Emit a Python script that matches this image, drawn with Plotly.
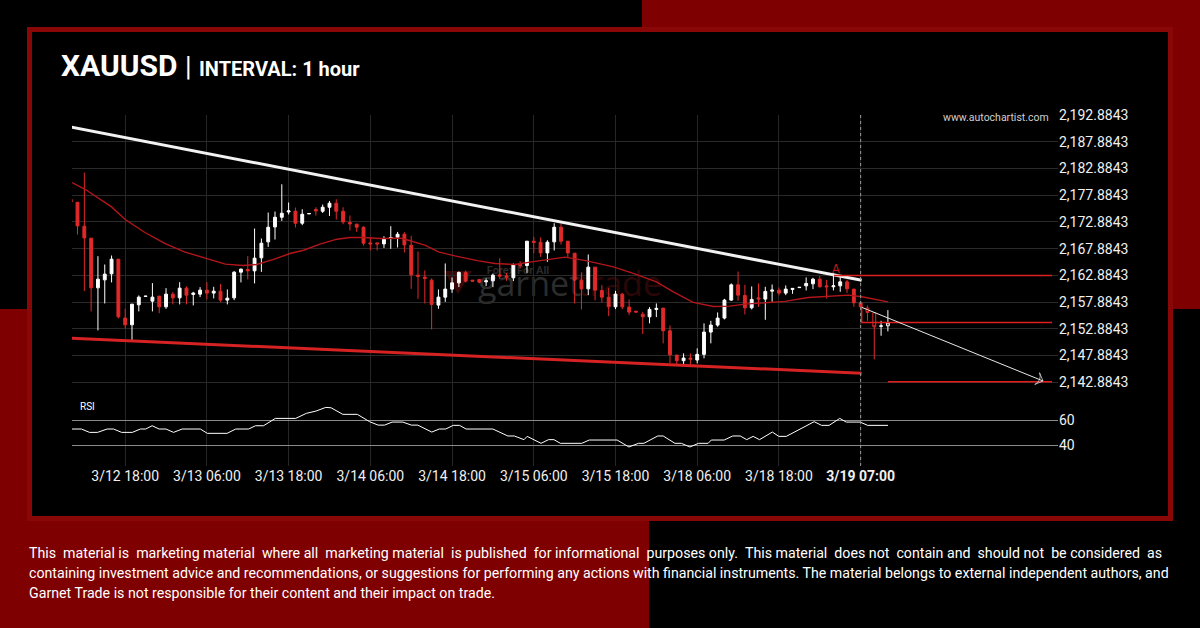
import plotly.graph_objects as go

W, H = 1200, 628


def px(x):
    return x / W


def py(y):
    return 1 - y / H


# ---------------- data ----------------
bar_idx = list(range(-1, 120))

opens = [
    2177.14, 2176.57, 2172.09, 2169.85, 2160.56, 2162.05, 2163.18, 2165.92, 2154.90, 2153.64,
    2157.38, 2158.95, 2158.07, 2159.01, 2157.01, 2159.38, 2158.69, 2160.50, 2159.33, 2159.38,
    2160.13, 2159.57, 2159.94, 2158.26, 2158.69, 2163.49, 2164.00, 2163.74, 2166.17, 2169.16,
    2171.96, 2173.77, 2174.76, 2174.89, 2172.65, 2174.40, 2175.21, 2174.89, 2175.64, 2176.39,
    2174.89, 2172.78, 2172.46, 2171.90, 2168.97, 2168.97, 2168.78, 2169.79, 2170.03, 2170.59,
    2168.54, 2162.93, 2162.56, 2162.00, 2157.33, 2158.82, 2160.32, 2161.49, 2163.44, 2162.00,
    2162.13, 2161.68, 2161.87, 2162.99, 2162.80, 2162.43, 2164.99, 2164.74, 2169.29, 2169.10,
    2167.10, 2169.16, 2171.90, 2169.29, 2167.04, 2162.00, 2160.37, 2164.43, 2160.07, 2158.82,
    2157.01, 2159.38, 2156.95, 2156.20, 2155.64, 2155.14, 2156.52, 2156.77, 2152.52, 2147.98,
    2146.92, 2147.42, 2147.05, 2148.11, 2152.28, 2153.59, 2154.90, 2158.26, 2161.12, 2159.14,
    2156.82, 2158.69, 2158.45, 2159.94, 2160.13, 2159.57, 2160.26, 2160.60, 2160.93, 2161.31,
    2162.18, 2160.93, 2160.75, 2160.93, 2161.68, 2160.32, 2157.76, 2156.77, 2155.89, 2153.36,
    2153.46,
]
highs = [
    2177.30, 2176.60, 2182.12, 2169.85, 2166.48, 2164.93, 2166.61, 2165.92, 2156.63, 2157.51,
    2159.14, 2159.05, 2161.44, 2159.01, 2160.50, 2159.81, 2161.62, 2160.82, 2159.81, 2160.69,
    2161.62, 2160.75, 2161.25, 2160.26, 2163.68, 2164.18, 2166.48, 2171.66, 2169.79, 2174.65,
    2174.84, 2179.94, 2176.52, 2175.58, 2175.27, 2174.50, 2175.64, 2176.14, 2176.82, 2177.14,
    2175.64, 2174.09, 2172.59, 2172.09, 2170.09, 2168.97, 2170.22, 2172.09, 2171.02, 2170.97,
    2170.28, 2167.36, 2163.81, 2162.32, 2160.26, 2165.12, 2162.50, 2163.62, 2163.81, 2162.00,
    2162.13, 2162.32, 2163.25, 2166.11, 2163.36, 2165.12, 2165.55, 2169.29, 2170.09, 2169.98,
    2169.47, 2172.65, 2172.59, 2169.29, 2167.04, 2163.44, 2166.80, 2164.43, 2161.06, 2160.56,
    2160.00, 2159.62, 2158.39, 2156.20, 2156.07, 2156.95, 2157.64, 2156.77, 2153.53, 2147.98,
    2148.30, 2148.30, 2149.23, 2153.91, 2154.39, 2155.96, 2158.50, 2161.38, 2163.62, 2161.12,
    2160.82, 2161.38, 2160.75, 2161.19, 2160.63, 2161.01, 2160.45, 2160.70, 2162.50, 2162.43,
    2162.80, 2162.05, 2163.25, 2162.80, 2162.05, 2160.32, 2157.76, 2157.27, 2155.89, 2154.39,
    2156.39,
]
lows = [
    2176.50, 2170.54, 2159.94, 2156.15, 2152.60, 2157.64, 2161.57, 2154.84, 2152.97, 2150.78,
    2156.15, 2158.90, 2156.15, 2155.83, 2156.63, 2157.46, 2157.46, 2157.46, 2157.27, 2158.82,
    2158.39, 2158.58, 2157.89, 2157.46, 2158.26, 2161.57, 2162.13, 2161.38, 2163.55, 2168.22,
    2169.60, 2173.08, 2174.28, 2171.85, 2172.28, 2174.40, 2174.09, 2174.57, 2174.01, 2173.34,
    2172.46, 2171.29, 2171.02, 2168.48, 2167.55, 2167.55, 2168.03, 2167.85, 2168.11, 2167.17,
    2160.37, 2158.50, 2157.64, 2152.78, 2156.63, 2157.94, 2159.62, 2160.69, 2161.57, 2161.81,
    2161.38, 2160.88, 2160.69, 2162.18, 2161.87, 2161.81, 2164.18, 2163.36, 2167.04, 2166.35,
    2165.42, 2167.55, 2168.67, 2166.30, 2157.64, 2156.52, 2159.19, 2158.20, 2157.83, 2155.27,
    2156.58, 2156.58, 2155.46, 2156.02, 2151.91, 2153.91, 2155.08, 2150.17, 2146.43, 2146.11,
    2146.11, 2146.11, 2146.43, 2147.37, 2150.17, 2153.27, 2154.65, 2158.13, 2158.13, 2155.59,
    2156.52, 2157.01, 2154.58, 2157.94, 2159.14, 2159.19, 2159.44, 2160.55, 2160.07, 2160.32,
    2160.63, 2158.58, 2160.07, 2159.81, 2159.62, 2157.01, 2157.01, 2154.39, 2147.18, 2151.59,
    2152.41,
]
closes = [
    2176.63, 2172.15, 2169.90, 2160.56, 2162.18, 2163.12, 2165.92, 2155.14, 2153.64, 2157.51,
    2158.82, 2159.00, 2158.82, 2157.01, 2159.38, 2158.69, 2160.50, 2159.19, 2159.57, 2160.13,
    2159.57, 2159.94, 2158.26, 2158.63, 2163.49, 2164.05, 2163.74, 2166.11, 2168.91, 2171.90,
    2173.77, 2174.52, 2174.95, 2172.65, 2174.33, 2174.46, 2174.95, 2175.64, 2176.39, 2174.89,
    2172.89, 2172.52, 2171.90, 2168.91, 2168.78, 2168.78, 2169.66, 2169.98, 2170.59, 2168.59,
    2162.99, 2162.69, 2162.32, 2157.46, 2158.82, 2160.32, 2161.49, 2163.44, 2161.81, 2161.81,
    2161.62, 2161.87, 2162.93, 2162.75, 2162.56, 2164.86, 2164.74, 2169.29, 2169.04, 2167.10,
    2169.10, 2171.90, 2169.29, 2167.10, 2162.00, 2160.37, 2164.43, 2160.13, 2158.82, 2157.01,
    2159.38, 2157.01, 2156.02, 2156.02, 2155.14, 2156.52, 2156.71, 2152.52, 2148.04, 2146.92,
    2147.42, 2147.18, 2148.11, 2152.28, 2153.59, 2154.90, 2158.26, 2161.12, 2159.19, 2156.82,
    2158.39, 2158.45, 2159.89, 2160.13, 2159.57, 2160.32, 2160.45, 2160.66, 2161.38, 2162.18,
    2160.75, 2160.75, 2160.93, 2161.68, 2160.37, 2157.76, 2157.01, 2155.96, 2153.27, 2153.44,
    2154.02,
]
N_CLOSED = 117  # bars up to the 3/19 07:00 marker; the rest are drawn hollow

# moving average
ma_x = [-0.8, 1.1, 5.0, 7.0, 9.9, 12.8, 15.7, 18.7, 21.7, 24.3, 26.3, 28.8, 31.2, 33.2, 35.6, 38.1,
        40.0, 42.0, 44.4, 47.4, 48.6, 51.0, 53.0, 55.4, 58.9, 61.3, 64.2, 66.7, 69.1, 71.6, 74.8,
        78.7, 81.6, 85.0, 87.5, 90.4, 93.4, 95.8, 98.0, 101.0, 103.9, 107.3, 111.2, 113.2, 115.2,
        117.1, 119.0]
ma_y = [2180.26, 2179.00, 2175.70, 2173.34, 2170.91, 2168.86, 2167.29, 2166.17, 2164.99, 2164.74,
        2164.93, 2165.87, 2166.99, 2167.60, 2168.73, 2169.66, 2169.98, 2169.98, 2169.79, 2169.85,
        2169.47, 2168.54, 2167.29, 2166.54, 2165.60, 2165.12, 2164.93, 2165.42, 2165.92, 2166.30,
        2165.60, 2164.48, 2163.25, 2161.68, 2159.81, 2157.83, 2157.08, 2157.14, 2157.51, 2157.76,
        2158.02, 2158.76, 2159.01, 2159.19, 2158.88, 2158.45, 2157.94]

# RSI
rsi_x = [-0.84, 0.58, 1.76, 2.94, 4.35, 5.30, 6.48, 8.05, 9.23, 10.01, 10.96, 11.98, 13.00, 14.10,
         15.36, 18.04, 19.06, 21.97, 23.23, 25.12, 26.14, 27.32, 29.05, 32.04, 33.61, 35.03, 36.45,
         37.23, 38.96, 41.09, 42.89, 44.15, 45.09, 46.20, 47.77, 49.03, 49.97, 52.02, 53.12, 54.07,
         55.17, 56.11, 57.06, 60.99, 63.19, 64.14, 65.56, 66.03, 68.07, 69.17, 69.96, 70.91, 74.05,
         75.15, 79.24, 80.97, 82.38, 83.17, 85.21, 86.00, 87.73, 88.67, 89.93, 91.19, 92.60, 93.07,
         94.96, 96.22, 97.32, 98.27, 99.21, 100.15, 102.04, 102.98, 104.08, 108.17, 109.27, 110.37,
         111.94, 112.88, 114.93, 116.03, 119.02]
rsi_y = [52.9, 52.9, 50.25, 50.25, 52.9, 52.9, 50.25, 50.25, 52.9, 52.9, 55.5, 52.9, 52.9, 50.25,
         52.9, 52.9, 49.5, 49.5, 52.9, 52.9, 55.5, 55.5, 61.3, 61.3, 65.3, 67.1, 70.0,
         69.7, 64.5, 64.5, 58.7, 56.0, 56.0, 58.4, 58.4, 56.0, 56.0, 50.5, 52.9, 52.9,
         55.8, 55.8, 52.9, 52.9, 47.4, 47.4, 44.5, 47.1, 41.6, 44.5, 44.5, 41.6, 41.6,
         44.2, 44.2, 38.7, 41.6, 41.6, 47.4, 47.4, 41.6, 41.6, 38.7, 41.6, 41.6, 44.2,
         44.2, 47.4, 47.4, 44.5, 47.1, 44.5, 50.5, 47.1, 47.1, 58.7, 55.8, 55.8,
         61.3, 58.4, 58.4, 55.8, 55.8]

# pattern lines / levels
resist_x = [-0.85, 115.15]
resist_y = [2190.60, 2161.97]
support_x = [-0.85, 115.15]
support_y = [2151.12, 2144.57]
level_a_x = [111.1, 143.1]
level_a_y = [2162.8843, 2162.8843]
cur_x = [115.15, 115.15, 143.1]
cur_y = [2157.00, 2154.09, 2154.09]
target_x = [119.0, 143.1]
target_y = [2142.99, 2142.99]
arrow_x = [115.15, 141.78]
arrow_y = [2156.92, 2143.13]
point_a = (111.4, 2164.1)
marker_bar = 115

tick_pos = [7, 19, 31, 43, 55, 67, 79, 91, 103, 115]
tick_text = ["3/12 18:00", "3/13 06:00", "3/13 18:00", "3/14 06:00", "3/14 18:00",
             "3/15 06:00", "3/15 18:00", "3/18 06:00", "3/18 18:00", "<b>3/19 07:00</b>"]
price_ticks = [2142.8843, 2147.8843, 2152.8843, 2157.8843, 2162.8843, 2167.8843,
               2172.8843, 2177.8843, 2182.8843, 2187.8843, 2192.8843]
rsi_ticks = [40, 60]

disclaimer = [
    "This material is marketing material where all marketing material is published for informational purposes only. This material does not contain and should not be considered as",
    "containing investment advice and recommendations, or suggestions for performing any actions with financial instruments. The material belongs to external independent authors, and",
    "Garnet Trade is not responsible for their content and their impact on trade.",
]


def widen(text):
    # the reference text is justified: add a little extra space between every other word
    words = text.split(" ")
    out = words[0]
    for k, w in enumerate(words[1:]):
        out += (" &nbsp;" if k % 2 == 0 else " ") + w
    return out


# ---------------- style ----------------
RED = "#e02a2a"
WHITE = "#ffffff"
FONT = "Roboto"

fig = go.Figure()

fig.add_trace(go.Candlestick(
    x=bar_idx[:N_CLOSED], open=opens[:N_CLOSED], high=highs[:N_CLOSED],
    low=lows[:N_CLOSED], close=closes[:N_CLOSED],
    increasing=dict(line=dict(color=WHITE, width=1), fillcolor=WHITE),
    decreasing=dict(line=dict(color=RED, width=1), fillcolor=RED),
    whiskerwidth=0, hoverinfo="none", showlegend=False, xaxis="x", yaxis="y"))
fig.add_trace(go.Candlestick(
    x=bar_idx[N_CLOSED:], open=opens[N_CLOSED:], high=highs[N_CLOSED:],
    low=lows[N_CLOSED:], close=closes[N_CLOSED:],
    increasing=dict(line=dict(color=WHITE, width=1), fillcolor="#000000"),
    decreasing=dict(line=dict(color=RED, width=1), fillcolor="#000000"),
    whiskerwidth=0, hoverinfo="none", showlegend=False, xaxis="x", yaxis="y"))

fig.add_trace(go.Scatter(x=ma_x, y=ma_y, mode="lines", line=dict(color="#b3161a", width=1.4),
                         hoverinfo="skip", showlegend=False, xaxis="x", yaxis="y"))
fig.add_trace(go.Scatter(x=resist_x, y=resist_y, mode="lines", line=dict(color="#f2f2f2", width=3),
                         hoverinfo="skip", showlegend=False, xaxis="x", yaxis="y"))
fig.add_trace(go.Scatter(x=support_x, y=support_y, mode="lines", line=dict(color="#d62222", width=3),
                         hoverinfo="skip", showlegend=False, xaxis="x", yaxis="y"))
for lx, ly in ((level_a_x, level_a_y), (cur_x, cur_y), (target_x, target_y)):
    fig.add_trace(go.Scatter(x=lx, y=ly, mode="lines", line=dict(color="#e01e1e", width=1.5),
                             hoverinfo="skip", showlegend=False, xaxis="x", yaxis="y"))
fig.add_trace(go.Scatter(x=arrow_x, y=arrow_y, mode="lines+markers",
                         line=dict(color="#e8e8e8", width=1),
                         marker=dict(symbol=["circle", "arrow-wide-open"], size=[0, 9],
                                     angleref="previous", color="#e8e8e8",
                                     line=dict(color="#e8e8e8", width=1)),
                         hoverinfo="skip", showlegend=False, xaxis="x", yaxis="y"))
fig.add_trace(go.Scatter(x=rsi_x, y=rsi_y, mode="lines", line=dict(color=WHITE, width=1),
                         hoverinfo="skip", showlegend=False, xaxis="x", yaxis="y2"))

# ---------------- background / frame ----------------
shapes = [
    dict(type="rect", xref="paper", yref="paper", x0=0, x1=px(642), y0=py(309), y1=1,
         fillcolor="#000000", line=dict(width=0), layer="below"),
    dict(type="rect", xref="paper", yref="paper", x0=px(649), x1=1, y0=0, y1=py(309),
         fillcolor="#000000", line=dict(width=0), layer="below"),
    dict(type="rect", xref="paper", yref="paper", x0=px(27), x1=px(1173), y0=py(521), y1=py(27),
         fillcolor="#8a0707", line=dict(width=0), layer="below"),
    dict(type="rect", xref="paper", yref="paper", x0=px(32), x1=px(1168), y0=py(516), y1=py(32),
         fillcolor="#000000", line=dict(width=0), layer="below"),
    # watermark logo
    dict(type="path", xref="paper", yref="paper",
         path=f"M {px(444)},{py(271)} L {px(472)},{py(271)} L {px(458)},{py(294)} Z",
         fillcolor="#3a0707", line=dict(width=0), layer="below"),
    dict(type="rect", xref="paper", yref="paper", x0=px(470), x1=px(566), y0=py(276), y1=py(263),
         fillcolor="rgba(0,0,0,0)", line=dict(width=0), layer="below",
         label=dict(text="<b>Forex For All</b>", textposition="middle center",
                    font=dict(family=FONT, size=11, color="#2a2a2a"))),
    dict(type="rect", xref="paper", yref="paper", x0=px(472), x1=px(600), y0=py(305), y1=py(265),
         fillcolor="rgba(0,0,0,0)", line=dict(width=0), layer="below",
         label=dict(text="garnet", textposition="middle left",
                    font=dict(family="Open Sans", size=34, color="#2c2c2c"))),
    dict(type="rect", xref="paper", yref="paper", x0=px(560), x1=px(668), y0=py(305), y1=py(265),
         fillcolor="rgba(0,0,0,0)", line=dict(width=0), layer="below",
         label=dict(text="trade", textposition="middle right",
                    font=dict(family="Open Sans", size=34, color="#2c0707"))),
    # current-bar marker
    dict(type="line", xref="x", yref="paper", x0=marker_bar, x1=marker_bar, y0=py(466), y1=py(115),
         line=dict(color="#9a9a9a", width=1, dash="3px,3px"), layer="above"),
]

annotations = [
    dict(xref="paper", yref="paper", x=px(58.5), y=py(66), xanchor="left", yanchor="middle",
         showarrow=False,
         text="<b>XAUUSD</b> <span style='font-size:27px'>|</span> "
              "<b><span style='font-size:20px'>INTERVAL: 1 hour</span></b>",
         font=dict(family=FONT, size=30, color=WHITE)),
    dict(xref="paper", yref="paper", x=px(1051), y=py(117), xanchor="right", yanchor="middle",
         showarrow=False, text="www.autochartist.com",
         font=dict(family=FONT, size=10.5, color="#cfcfcf")),
    dict(xref="paper", yref="paper", x=px(78), y=py(406), xanchor="left", yanchor="middle",
         showarrow=False, text="RSI", font=dict(family=FONT, size=10, color=WHITE)),
    dict(xref="x", yref="y", x=point_a[0], y=point_a[1], showarrow=False, text="A",
         font=dict(family=FONT, size=12, color="#c41c1c")),
]
for k, line in enumerate(disclaimer):
    txt = widen(line) if k == 0 else line
    annotations.append(dict(xref="paper", yref="paper", x=px(27), y=py(552.5 + 20 * k),
                            xanchor="left", yanchor="middle", showarrow=False, text=txt,
                            font=dict(family=FONT, size=14.2, color=WHITE)))

axis_font = dict(family=FONT, size=14, color="#f0f0f0")
fig.update_layout(
    width=W, height=H, margin=dict(l=0, r=0, t=0, b=0, pad=0, autoexpand=False),
    paper_bgcolor="#7f0000", plot_bgcolor="rgba(0,0,0,0)",
    showlegend=False, boxgap=0.4, hovermode=False,
    xaxis=dict(domain=[px(72), px(1058)], range=[-0.81, 143.98], anchor="y2",
               tickvals=tick_pos, ticktext=tick_text, ticks="", showgrid=True,
               gridcolor="#262626", gridwidth=1, zeroline=False, showline=False,
               rangeslider=dict(visible=False), tickfont=axis_font, fixedrange=True,
               automargin=False),
    yaxis=dict(domain=[py(395), py(115)], range=[2140.507, 2192.90], side="right", anchor="x",
               tickvals=price_ticks, tickformat=",.4f", ticks="", showgrid=True,
               gridcolor="#2a2a2a", gridwidth=1, zeroline=False, showline=False,
               tickfont=axis_font, fixedrange=True, automargin=False),
    yaxis2=dict(domain=[py(466), py(395)], range=[23.67, 79.8], side="right", anchor="x",
                tickvals=rsi_ticks, ticks="", showgrid=True, gridcolor="#8a8a8a", gridwidth=1,
                zeroline=False, showline=False, tickfont=axis_font, fixedrange=True,
                automargin=False),
    shapes=shapes, annotations=annotations,
)

fig.write_html("out.html")
